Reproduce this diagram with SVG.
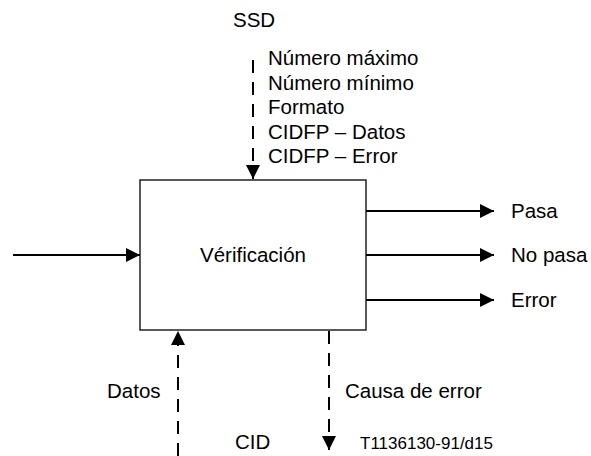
<svg xmlns="http://www.w3.org/2000/svg" width="591" height="456" viewBox="0 0 591 456">
<style>
  text { font-family: "Liberation Sans", Arial, sans-serif; font-size: 20.5px; fill: #000; }
  .small { font-size: 17px; }
  .solid { stroke: #000; stroke-width: 2; fill: none; }
  .dash { stroke: #000; stroke-width: 2; fill: none; stroke-dasharray: 13 9; }
  .box { fill: #fff; stroke: #000; stroke-width: 1.3; }
</style>
<defs>
  <marker id="ah" viewBox="0 0 14 14" refX="14" refY="7" markerWidth="14" markerHeight="14" markerUnits="userSpaceOnUse" orient="auto">
    <path d="M0,0 L14,7 L0,14 Z" fill="#000"/>
  </marker>
</defs>
<g id="connectors">
  <line class="dash" x1="253" y1="60" x2="253" y2="179" marker-end="url(#ah)"/>
  <line class="solid" x1="13" y1="255" x2="140" y2="255" marker-end="url(#ah)"/>
  <line class="solid" x1="366" y1="211" x2="494" y2="211" marker-end="url(#ah)"/>
  <line class="solid" x1="366" y1="255" x2="494" y2="255" marker-end="url(#ah)"/>
  <line class="solid" x1="366" y1="300" x2="494" y2="300" marker-end="url(#ah)"/>
  <line class="dash" x1="178" y1="456" x2="178" y2="331" marker-end="url(#ah)"/>
  <line class="dash" x1="329" y1="331" x2="329" y2="450" marker-end="url(#ah)"/>
</g>
<g id="verificacion">
  <rect class="box" x="140" y="180" width="226" height="150"/>
  <text x="253" y="262" text-anchor="middle">Vérificación</text>
</g>
<g id="labels">
  <text x="233" y="27">SSD</text>
  <text x="268" y="65">Número máximo</text>
  <text x="268" y="89.5">Número mínimo</text>
  <text x="268" y="114">Formato</text>
  <text x="268" y="138.5">CIDFP – Datos</text>
  <text x="268" y="163">CIDFP – Error</text>
  <text x="511" y="218">Pasa</text>
  <text x="511" y="262">No pasa</text>
  <text x="511" y="307">Error</text>
  <text x="107" y="398">Datos</text>
  <text x="345" y="398">Causa de error</text>
  <text x="235" y="449">CID</text>
  <text class="small" x="360" y="449">T1136130-91/d15</text>
</g>
</svg>
